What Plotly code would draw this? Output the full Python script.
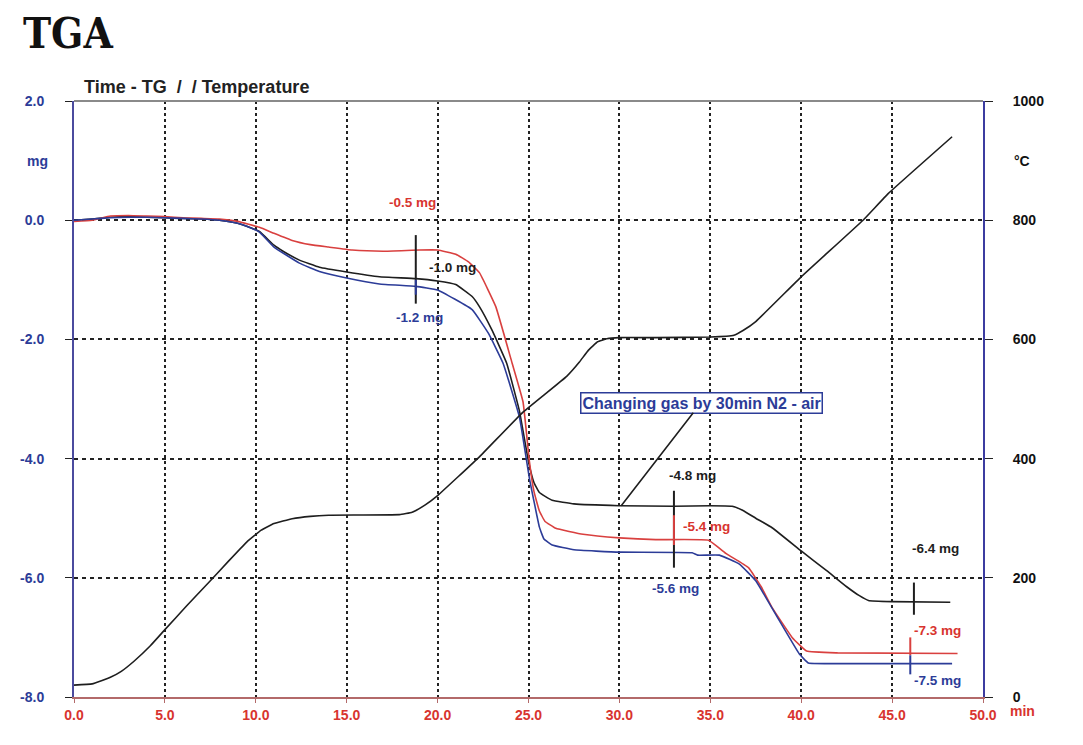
import plotly.graph_objects as go

# --- data (time in min, mass change in mg, temperature in °C) ---
black_t = [0, 1, 2, 3, 4, 5, 6, 7, 8, 9, 9.5, 10.2, 11, 11.5, 12.4, 13.5, 15, 16.8,
           18.8, 20, 21, 21.9, 22.3, 23, 23.8, 24.5, 25, 25.3, 25.6, 26.3, 27.5, 30, 33,
           35, 36.2, 36.8, 37.5, 38.4, 40, 41.4, 42.5, 43.2, 43.7, 45, 48.2]
black_mg = [0.0, 0.02, 0.05, 0.06, 0.05, 0.04, 0.03, 0.02, 0.0, -0.05, -0.1, -0.19,
            -0.42, -0.52, -0.67, -0.79, -0.87, -0.95, -0.98, -1.02, -1.08, -1.28, -1.45,
            -1.85, -2.4, -3.2, -4.05, -4.4, -4.57, -4.7, -4.76, -4.79, -4.8, -4.79,
            -4.8, -4.87, -5.0, -5.16, -5.55, -5.88, -6.15, -6.3, -6.38, -6.4, -6.41]

red_t = [0, 1, 2, 3, 4, 5, 6, 7, 8, 9, 10.2, 11, 12, 13, 14, 15.3, 17, 19, 20, 21,
         21.7, 22.3, 23.2, 24.1, 24.7, 25.05, 25.3, 25.6, 25.9, 26.5, 28, 30, 32, 34.9,
         35.9, 37.1, 37.8, 38.4, 39.5, 40.3, 42, 48.6]
red_mg = [-0.02, 0.0, 0.07, 0.08, 0.07, 0.06, 0.04, 0.03, 0.02, -0.02, -0.12, -0.22,
          -0.34, -0.41, -0.45, -0.5, -0.52, -0.5, -0.5, -0.57, -0.7, -0.88, -1.45, -2.4,
          -3.05, -4.05, -4.55, -4.88, -5.05, -5.17, -5.27, -5.33, -5.36, -5.37, -5.6,
          -5.83, -6.15, -6.5, -7.0, -7.23, -7.26, -7.27]

blue_t = [0, 1, 2, 3, 4, 5, 6, 7, 8, 9, 9.5, 10.2, 11, 12.4, 13.5, 15, 16.8, 18.8, 20,
          21.9, 22.8, 23.6, 24.5, 25.05, 25.6, 25.85, 26.3, 27.5, 30, 34, 34.3, 35.5,
          36.6, 37.5, 38.8, 39.9, 40.4, 42, 48.3]
blue_mg = [0.0, 0.02, 0.04, 0.05, 0.05, 0.04, 0.03, 0.02, 0.0, -0.05, -0.1, -0.2,
           -0.45, -0.72, -0.86, -0.97, -1.07, -1.11, -1.17, -1.5, -1.9, -2.4, -3.3,
           -4.33, -5.15, -5.35, -5.45, -5.53, -5.57, -5.58, -5.62, -5.62, -5.77, -6.05,
           -6.72, -7.28, -7.43, -7.44, -7.44]

temp_t = [0, 1, 2, 2.6, 3.3, 4.2, 5, 6.2, 7.5, 8.5, 9.5, 10.3, 11, 12, 13, 14, 17.9,
          18.6, 19.3, 20, 22.3, 24.7, 27.1, 27.8, 28.3, 28.8, 29.3, 30, 32, 35, 36.3,
          36.8, 37.5, 40, 43.4, 44.8, 48.3]
temp_c = [20, 22, 33, 43, 60, 86, 113, 153, 195, 228, 260, 280, 291, 299, 303, 305,
          306, 310, 322, 338, 403, 478, 538, 562, 582, 596, 601, 603, 603, 604, 607,
          615, 630, 705, 800, 845, 940]

# step labels: (time, mg, text, colour key)
label_t = [18.6, 20.8, 19.0, 34.0, 34.8, 33.1, 47.4, 47.5, 47.5]
label_mg = [0.29, -0.8, -1.63, -4.29, -5.14, -6.18, -5.5, -6.89, -7.73]
label_text = ["-0.5 mg", "-1.0 mg", "-1.2 mg", "-4.8 mg", "-5.4 mg", "-5.6 mg",
              "-6.4 mg", "-7.3 mg", "-7.5 mg"]
label_col = ["red", "black", "blue", "black", "red", "blue", "black", "red", "blue"]

# evaluation markers (vertical ticks): time, lower mg, upper mg, colour key
mark_t = [18.8, 18.8, 33.0, 33.0, 46.2, 46.0, 46.0]
mark_lo = [-1.4, -1.25, -5.83, -5.45, -6.62, -7.3, -7.62]
mark_hi = [-0.25, -1.0, -4.54, -4.95, -6.08, -7.0, -7.3]
mark_col = ["black", "blue", "black", "red", "black", "red", "blue"]

x_ticks = [0, 5, 10, 15, 20, 25, 30, 35, 40, 45, 50]
mg_ticks = [2, 0, -2, -4, -6, -8]
mg_tick_text = ["2.0", "0.0", "-2.0", "-4.0", "-6.0", "-8.0"]

COL = {"black": "#1e1e1e", "red": "#d9403f", "blue": "#2c3c98"}
LABEL_COL = {"black": "#1e1e1e", "red": "#d8342f", "blue": "#2c3c98"}
LINE = dict(width=1.6, shape="spline", smoothing=0.3)

fig = go.Figure()

fig.add_trace(go.Scatter(x=temp_t, y=temp_c, yaxis="y2", mode="lines",
                         line=dict(color=COL["black"], **LINE)))
fig.add_trace(go.Scatter(x=black_t, y=black_mg, mode="lines",
                         line=dict(color=COL["black"], **LINE)))
fig.add_trace(go.Scatter(x=red_t, y=red_mg, mode="lines",
                         line=dict(color=COL["red"], **LINE)))
fig.add_trace(go.Scatter(x=blue_t, y=blue_mg, mode="lines",
                         line=dict(color=COL["blue"], **LINE)))

for t, lo, hi, c in zip(mark_t, mark_lo, mark_hi, mark_col):
    fig.add_shape(type="line", xref="x", yref="y", x0=t, x1=t, y0=lo, y1=hi,
                  line=dict(color=COL[c], width=2))

for t, m, txt, c in zip(label_t, label_mg, label_text, label_col):
    fig.add_annotation(x=t, y=m, text=txt, showarrow=False,
                       font=dict(family="Liberation Sans", size=13.5, color=LABEL_COL[c], weight="bold"))

# gas change note with leader line
fig.add_annotation(x=30.1, y=-4.79, ax=34.5, ay=-3.06, axref="x", ayref="y",
                   text="Changing gas by 30min N2 - air", showarrow=True, arrowhead=0,
                   arrowwidth=1.6, arrowcolor=COL["black"], bordercolor="#2c3c98",
                   borderwidth=1.5, borderpad=1, bgcolor="white",
                   font=dict(family="Liberation Sans", size=16, color="#2c3c98", weight="bold"))

# top frame line
fig.add_shape(type="line", xref="paper", yref="paper", x0=0, x1=1, y0=1, y1=1,
              line=dict(color="#8a8a8a", width=2), layer="above")

fig.add_annotation(xref="paper", yref="paper", x=-0.058, y=1.113, xanchor="left",
                   yanchor="middle", text="TGA", showarrow=False,
                   font=dict(family="DejaVu Serif Condensed", size=42, color="#111", weight="bold"))
fig.add_annotation(xref="paper", yref="paper", x=0.009, y=1.024, xanchor="left",
                   yanchor="middle", text="Time - TG  /  / Temperature", showarrow=False,
                   font=dict(family="Liberation Sans", size=18, color="#222", weight="bold"))
fig.add_annotation(xref="paper", yref="y", x=-0.04, y=1.0, xanchor="center",
                   text="mg", showarrow=False,
                   font=dict(family="Liberation Sans", size=14, color="#2c3c98", weight="bold"))
fig.add_annotation(xref="paper", yref="y", x=1.043, y=1.0, xanchor="center",
                   text="°C", showarrow=False,
                   font=dict(family="Liberation Sans", size=14, color="#111", weight="bold"))
fig.add_annotation(xref="paper", yref="paper", x=1.043, y=-0.024, xanchor="center",
                   yanchor="middle", text="min", showarrow=False,
                   font=dict(family="Liberation Sans", size=14, color="#d8342f", weight="bold"))

fig.update_layout(
    width=1083, height=745,
    margin=dict(l=66, r=108, t=93, b=56, autoexpand=False),
    paper_bgcolor="white", plot_bgcolor="white",
    showlegend=False,
    xaxis=dict(range=[0, 50], tickvals=x_ticks, tickformat=".1f", automargin=False,
               showgrid=True, gridcolor="#222", griddash="dot", gridwidth=1.6,
               zeroline=False, showline=True, linecolor="#b36a6a", linewidth=2,
               ticks="outside", ticklen=4, tickcolor="#b36a6a",
               tickfont=dict(family="Liberation Sans", size=14, color="#d8342f", weight="bold")),
    yaxis=dict(range=[-8, 2], tickvals=mg_ticks, ticktext=mg_tick_text, automargin=False,
               showgrid=True, gridcolor="#222", griddash="4px,4px", gridwidth=1.6,
               zeroline=False, showline=True, linecolor="#4b4b9e", linewidth=2,
               ticks="outside", ticklen=7, tickcolor="#222", ticklabelstandoff=18,
               tickfont=dict(family="Liberation Sans", size=14, color="#2c3c98", weight="bold")),
    yaxis2=dict(range=[0, 1000], dtick=200, overlaying="y", side="right", automargin=False,
                showgrid=False, zeroline=False, showline=True, linecolor="#3c3ca0",
                linewidth=2, ticks="outside", ticklen=8, tickcolor="#222",
                ticklabelstandoff=17,
                tickfont=dict(family="Liberation Sans", size=14, color="#111", weight="bold")),
)

fig.write_html("out.html")
